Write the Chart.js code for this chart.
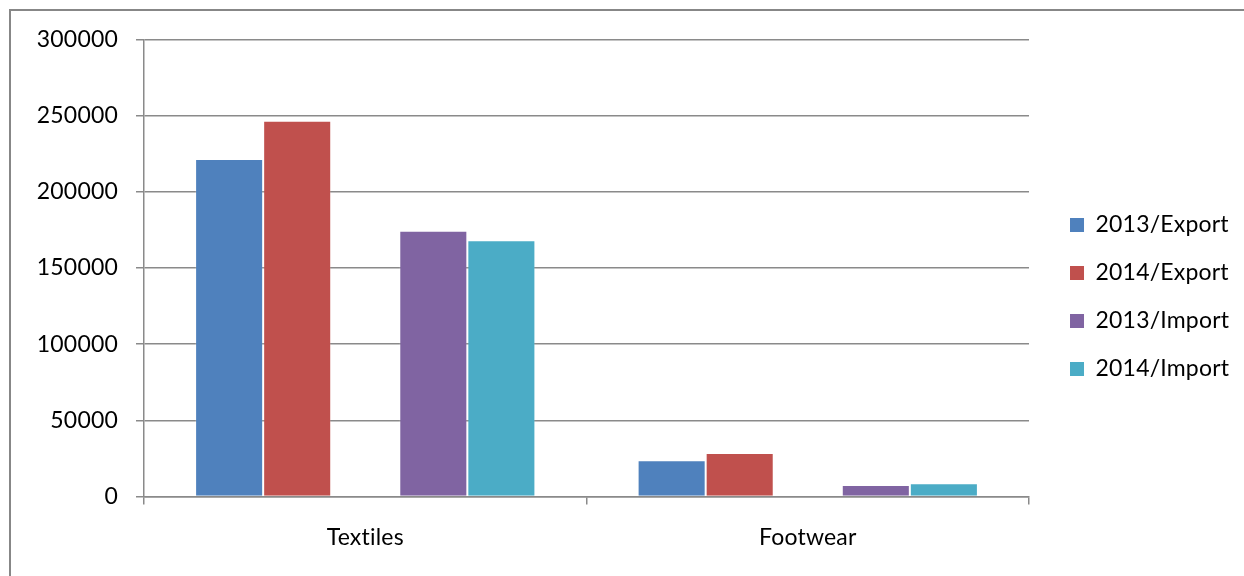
<!DOCTYPE html>
<html>
<head>
<meta charset="utf-8">
<title>Textiles and Footwear trade</title>
<script src="https://cdn.jsdelivr.net/npm/chart.js@4/dist/chart.umd.min.js"></script>
<style>
  html, body { margin: 0; padding: 0; background: #ffffff; }
  #wrap { position: relative; width: 1244px; height: 576px; overflow: hidden; }
  #frame {
    position: absolute; left: 9px; top: 9px; width: 1400px; height: 800px;
    border-top: 2px solid #878787; border-left: 2px solid #878787;
    box-sizing: border-box; pointer-events: none;
  }
  canvas { position: absolute; left: 0; top: 0; }
</style>
</head>
<body>
<div id="wrap">
  <canvas id="chart" width="1244" height="576"></canvas>
  <div id="frame"></div>
</div>
<script>
// Product categories on the x axis
const categories = ['Textiles', 'Footwear'];

// Trade values per series
const export2013 = [221500, 23800];
const export2014 = [246700, 28500];
const import2013 = [174500, 7600];
const import2014 = [168200, 8700];

// Series names as shown in the legend
const seriesNames = ['2013/Export', '2014/Export', '2013/Import', '2014/Import'];

// Value axis range and step
const yMin = 0;
const yMax = 300000;
const yStep = 50000;

const colors = ['#4F81BD', '#C0504D', '#8064A2', '#4BACC6'];
const edge = 'rgba(255,255,255,0.18)';
const gridColor = '#8a8a8a';
const fontFamily = 'Lato, "Open Sans", sans-serif';
const fontSize = 23;

function series(i, values) {
  return {
    label: seriesNames[i],
    data: values,
    backgroundColor: colors[i],
    borderColor: edge,
    borderWidth: 1,
    borderSkipped: 'bottom'
  };
}

// Empty slot that separates the export bars from the import bars in each group
const gapSlot = { label: '', data: categories.map(() => null), backgroundColor: 'rgba(0,0,0,0)', borderWidth: 0 };

// Slight tracking keeps "ti" from joining into a ligature
const tracking = {
  id: 'tracking',
  beforeDraw(chart) { chart.ctx.letterSpacing = '0.2px'; }
};

function draw() {
  new Chart(document.getElementById('chart'), {
    type: 'bar',
    plugins: [tracking],
    data: {
      labels: categories,
      datasets: [
        series(0, export2013),
        series(1, export2014),
        gapSlot,
        series(2, import2013),
        series(3, import2014)
      ]
    },
    options: {
      responsive: false,
      animation: false,
      events: [],
      layout: { padding: { left: 0, top: 39.5, right: 7, bottom: 21.5 } },
      datasets: { bar: { categoryPercentage: 0.769, barPercentage: 1 } },
      font: { family: fontFamily, size: fontSize },
      color: '#000000',
      plugins: {
        tooltip: { enabled: false },
        legend: {
          position: 'right',
          align: 'center',
          labels: {
            filter: item => item.text !== '',
            generateLabels: chart => Chart.defaults.plugins.legend.labels.generateLabels(chart)
              .map(l => Object.assign(l, { lineWidth: 0 })),
            boxWidth: 14,
            boxHeight: 14,
            padding: 25,
            color: '#000000',
            font: { family: fontFamily, size: fontSize }
          }
        }
      },
      scales: {
        x: {
          offset: true,
          afterFit: s => { s.height = 58; },
          grid: {
            offset: true,
            drawOnChartArea: false,
            drawTicks: true,
            tickLength: 8,
            color: gridColor,
            lineWidth: 1.5
          },
          border: { display: true, color: gridColor, width: 1.5 },
          ticks: { color: '#000000', padding: 19, font: { family: fontFamily, size: fontSize } }
        },
        y: {
          min: yMin,
          max: yMax,
          afterFit: s => { s.width = 144; },
          grid: {
            color: gridColor,
            lineWidth: 1.5,
            drawTicks: true,
            tickLength: 8
          },
          border: { display: true, color: gridColor, width: 1.5 },
          ticks: {
            stepSize: yStep,
            padding: 18,
            color: '#000000',
            font: { family: fontFamily, size: fontSize },
            callback: v => String(v)
          }
        },
        spacer: {
          type: 'linear',
          position: 'right',
          display: true,
          afterFit: s => { s.width = 16; },
          grid: { display: false, drawTicks: false },
          border: { display: false },
          ticks: { display: false }
        }
      }
    }
  });
}

if (document.fonts && document.fonts.load) {
  document.fonts.load('23px Lato').then(draw, draw);
} else {
  draw();
}
</script>
</body>
</html>
